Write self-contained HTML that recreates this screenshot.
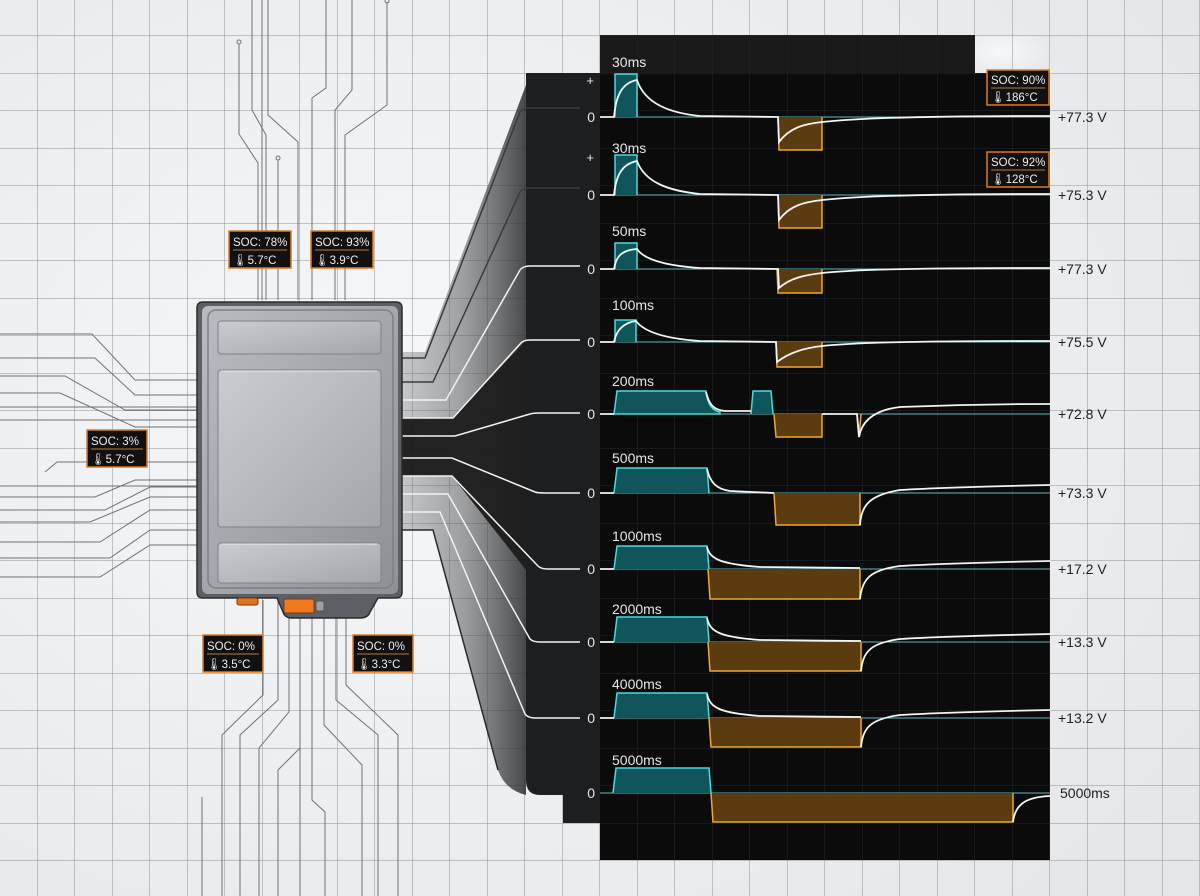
<!DOCTYPE html>
<html><head><meta charset="utf-8"><style>
html,body{margin:0;padding:0;background:#eceef0;}
svg{display:block;}
text{font-family:"Liberation Sans",sans-serif;}
</style></head><body>
<svg width="1200" height="896" viewBox="0 0 1200 896" xmlns="http://www.w3.org/2000/svg">
<defs>
<radialGradient id="bg" cx="0.35" cy="0.45" r="0.8"><stop offset="0" stop-color="#f7f8f9"/><stop offset="1" stop-color="#e4e6e8"/></radialGradient>
<linearGradient id="bat" x1="0" y1="0" x2="1" y2="1"><stop offset="0" stop-color="#b8bcc1"/><stop offset="1" stop-color="#8e9297"/></linearGradient>
<linearGradient id="pan" x1="0" y1="0" x2="1" y2="1"><stop offset="0" stop-color="#c9ccd0"/><stop offset="1" stop-color="#a3a7ac"/></linearGradient>
<linearGradient id="shade" x1="0" y1="0" x2="1" y2="0"><stop offset="0" stop-color="#6a6c70" stop-opacity="0.35"/><stop offset="0.5" stop-color="#555759" stop-opacity="0.55"/><stop offset="1" stop-color="#2a2b2c" stop-opacity="0.85"/></linearGradient>
<linearGradient id="shadeD" x1="0" y1="0" x2="1" y2="0"><stop offset="0" stop-color="#111" stop-opacity="0.9"/><stop offset="1" stop-color="#1a1a1a" stop-opacity="0.9"/></linearGradient>
<pattern id="grid" width="37.5" height="37.5" patternUnits="userSpaceOnUse" x="0" y="-1.5"><path d="M37.5 0V37.5M0 37.5H37.5" stroke="#8e9095" stroke-width="1" fill="none"/></pattern>
<pattern id="dgrid" width="37.5" height="37.5" patternUnits="userSpaceOnUse" x="0" y="-1.5"><path d="M37.5 0V37.5M0 37.5H37.5" stroke="#262728" stroke-width="1" fill="none"/></pattern>
</defs>
<rect width="1200" height="896" fill="url(#bg)"/>
<rect width="1200" height="896" fill="url(#grid)"/>

<g stroke="#6f7276" stroke-width="1" fill="none">
<path d="M239 44V134L258 163V300"/><circle cx="239" cy="42" r="2"/>
<path d="M252 0V110L266 135V300"/>
<path d="M262 0V300"/>
<path d="M278 160V300"/><circle cx="278" cy="158" r="2"/>
<path d="M268 0V115L298 142V300"/>
<path d="M326 0V88L312 98V300"/>
<path d="M352 0V90L335 110V300"/>
<path d="M387 2V105L345 135V300"/><circle cx="387" cy="1" r="2"/>
<path d="M0 334H92L135 380H197"/>
<path d="M0 358H95L135 395H197"/>
<path d="M0 376H65L125 410H197"/>
<path d="M0 393H60L135 427H197"/>
<path d="M0 407H197"/>
<path d="M0 420H197"/>
<path d="M45 472L57 462H197"/>
<path d="M0 486H197"/>
<path d="M0 497H95L135 480H197"/>
<path d="M0 510H105L150 487H197"/>
<path d="M0 522H90L150 497H197"/>
<path d="M0 542H100L150 510H197"/>
<path d="M0 558H110L150 530H197"/>
<path d="M0 577H100L150 545H197"/>
<path d="M263 600V695L222 735V896"/>
<path d="M278 600V700L240 735V896"/>
<path d="M289 610V712L259 748V896"/>
<path d="M300 618V748L278 770V896"/>
<path d="M312 618V800L325 812V896"/>
<path d="M324 618V725L362 765V896"/>
<path d="M336 618V700L378 735V896"/>
<path d="M346 618V685L398 735V896"/>
<path d="M202 797V896"/>
<path d="M300 618V896"/>
</g>

<rect x="600" y="35" width="375" height="40" fill="#1a1a1b"/>
<path d="M526 73H600V823H563V795H540Q526 795 526 780Z" fill="#1d1e1f"/>
<rect x="600" y="73" width="450" height="787" fill="#0b0b0b"/>
<rect x="600" y="35" width="450" height="825" fill="url(#dgrid)"/>
<rect x="975" y="35" width="75" height="38" fill="url(#bg)"/>
<rect x="975" y="35" width="75" height="38" fill="url(#grid)"/>

<path d="M402 352H425L526 85V795Q505 790 498 770L433 530H402Z" fill="url(#shade)"/>
<path d="M402 418H453L526 340V570L452 476H402Z" fill="url(#shadeD)"/>
<g fill="none" stroke-width="1.5">
<path d="M402 358H425L520 112Q523 108 530 108H580" stroke="#3a3b3d"/>
<path d="M402 382H433L520 192Q523 188 530 188H580" stroke="#3a3b3d"/>
<path d="M402 400H446L520 270Q523 266 530 266H580" stroke="#f2f2f2"/>
<path d="M402 418H453L520 344Q523 340 530 340H580" stroke="#f2f2f2"/>
<path d="M402 436H455L530 414Q533 413 540 413H580" stroke="#f2f2f2"/>
<path d="M402 458H452L535 492Q538 493 545 493H580" stroke="#f2f2f2"/>
<path d="M402 476H452L538 566Q541 569 548 569H580" stroke="#f2f2f2"/>
<path d="M402 494H448L530 639Q533 642 540 642H580" stroke="#f2f2f2"/>
<path d="M402 512H440L525 714Q528 718 535 718H580" stroke="#f2f2f2"/>
<path d="M402 530H433L498 770" stroke="#2a2b2c"/>
</g>

<path d="M203 302H396Q402 302 402 308V592Q402 598 396 598H378L370 612Q368 618 360 618H292Q285 618 283 612L277 598H203Q197 598 197 592V308Q197 302 203 302Z" fill="#5c5f63" stroke="#2b2c2e" stroke-width="1.5"/>
<rect x="202" y="306" width="196" height="288" rx="6" fill="url(#bat)"/>
<rect x="208" y="310" width="185" height="278" rx="8" fill="url(#bat)" stroke="#7c8085" stroke-width="1.5"/>
<rect x="218" y="321" width="163" height="33" rx="3" fill="url(#pan)" stroke="#7e8287"/>
<rect x="218" y="370" width="163" height="157" rx="3" fill="url(#pan)" stroke="#7e8287"/>
<rect x="218" y="543" width="163" height="40" rx="3" fill="url(#pan)" stroke="#7e8287"/>
<line x1="222" y1="371" x2="377" y2="371" stroke="#eef0f2"/>
<line x1="222" y1="544" x2="377" y2="544" stroke="#eef0f2"/>
<rect x="237" y="598" width="21" height="7" rx="2" fill="#e0731f" stroke="#7a3a10"/>
<rect x="284" y="599" width="30" height="14" rx="2" fill="#f07a22" stroke="#7a3a10"/>
<rect x="316" y="601" width="8" height="10" rx="2" fill="#9aa0a5" stroke="#555"/>

<g font-size="11.5" fill="#eee">
<g transform="translate(229,231)"><rect width="62" height="37" fill="#111" stroke="#e07a20" stroke-width="1.5"/><line x1="4" y1="19" x2="58" y2="19" stroke="#b87a3a"/><text x="4" y="15">SOC: 78%</text><text x="4" y="33">🌡5.7°C</text></g>
<g transform="translate(311,231)"><rect width="62" height="37" fill="#111" stroke="#e07a20" stroke-width="1.5"/><line x1="4" y1="19" x2="58" y2="19" stroke="#b87a3a"/><text x="4" y="15">SOC: 93%</text><text x="4" y="33">🌡3.9°C</text></g>
<g transform="translate(87,430)"><rect width="60" height="37" fill="#111" stroke="#e07a20" stroke-width="1.5"/><line x1="4" y1="19" x2="56" y2="19" stroke="#b87a3a"/><text x="4" y="15">SOC: 3%</text><text x="4" y="33">🌡5.7°C</text></g>
<g transform="translate(203,635)"><rect width="60" height="37" fill="#111" stroke="#e07a20" stroke-width="1.5"/><line x1="4" y1="19" x2="56" y2="19" stroke="#b87a3a"/><text x="4" y="15">SOC: 0%</text><text x="4" y="33">🌡3.5°C</text></g>
<g transform="translate(353,635)"><rect width="60" height="37" fill="#111" stroke="#e07a20" stroke-width="1.5"/><line x1="4" y1="19" x2="56" y2="19" stroke="#b87a3a"/><text x="4" y="15">SOC: 0%</text><text x="4" y="33">🌡3.3°C</text></g>
<g transform="translate(987,70)"><rect width="62" height="35" fill="#111" stroke="#e07a20" stroke-width="1.5"/><line x1="4" y1="18" x2="58" y2="18" stroke="#b87a3a"/><text x="4" y="14">SOC: 90%</text><text x="4" y="31">🌡186°C</text></g>
<g transform="translate(987,152)"><rect width="62" height="35" fill="#111" stroke="#e07a20" stroke-width="1.5"/><line x1="4" y1="18" x2="58" y2="18" stroke="#b87a3a"/><text x="4" y="14">SOC: 92%</text><text x="4" y="31">🌡128°C</text></g>
</g>

<g stroke="#5fb8b8" stroke-width="1">
<line x1="600" y1="117" x2="1050" y2="117"/><line x1="600" y1="195" x2="1050" y2="195"/>
<line x1="600" y1="269" x2="1050" y2="269"/><line x1="600" y1="342" x2="1050" y2="342"/>
<line x1="600" y1="414" x2="1050" y2="414"/><line x1="600" y1="493" x2="1050" y2="493"/>
<line x1="600" y1="569" x2="1050" y2="569"/><line x1="600" y1="642" x2="1050" y2="642"/>
<line x1="600" y1="718" x2="1050" y2="718"/><line x1="600" y1="793" x2="1050" y2="793"/>
</g>

<g fill="#0f555b" stroke="#45dde0" stroke-width="1.5">
<path d="M615 117V74H637V117"/>
<path d="M615 195V155H637V195"/>
<path d="M615 269V243H637V269"/>
<path d="M615 342V320H636V342"/>
<path d="M614 414L617 391H706Q708 410 720 412V414Z"/>
<path d="M751 414L753 391H771L773 414"/>
<path d="M614 493L617 468H707L709 493"/>
<path d="M614 569L617 546H707L709 569"/>
<path d="M614 642L617 617H707L709 642"/>
<path d="M614 718L617 693H707L709 718"/>
<path d="M613 793L616 768H709L711 793"/>
</g>
<g fill="#5a3c10" stroke="#f0a830" stroke-width="1.5">
<path d="M778 117L779 150H822V117"/>
<path d="M778 195L779 228H822V195"/>
<path d="M777 269L778 293H822V269"/>
<path d="M776 342L777 367H822V342"/>
<path d="M774 414L776 437H822V414"/>
<path d="M857 414L859 437L861 414" fill="none"/>
<path d="M774 493L776 525H860V493"/>
<path d="M708 569L710 599H860V569"/>
<path d="M708 642L710 671H861V642"/>
<path d="M709 718L711 747H861V718"/>
<path d="M711 793L713 822H1013V793"/>
</g>
<g fill="none" stroke="#f4f4f4" stroke-width="1.8">
<path d="M600 117H614C616 95 622 83 637 80C645 104 670 113 700 116L778 117L779 142C790 127 805 124 822 122C850 119 900 116 1050 116"/>
<path d="M600 195H614C616 175 622 164 637 161C645 183 670 191 700 194L778 195L779 220C790 205 805 202 822 200C850 197 900 194 1050 194"/>
<path d="M600 269H614C616 256 622 250 637 249C645 261 670 266 700 268L778 269L779 288C790 278 805 275 822 273C850 270 900 268 1050 268"/>
<path d="M600 342H614C616 332 622 323 636 321C645 333 670 339 700 341L776 342L777 362C790 352 805 348 822 346C850 343 900 341 1050 341"/>
<path d="M600 414H614M706 392C709 404 713 410 725 411H751M822 414H857L859 437C862 420 875 410 900 407C950 405 1000 404 1050 404"/>
<path d="M600 493H614M707 469C710 482 716 489 730 491L774 493M860 525C861 505 870 495 900 490C950 487 1000 486 1050 485"/>
<path d="M600 569H614M707 547C710 559 720 564 760 567L860 568M860 599C862 579 870 570 900 566C950 563 1000 562 1050 561"/>
<path d="M600 642H614M707 618C710 632 720 637 760 640L861 641M861 671C863 652 870 643 900 639C950 636 1000 635 1050 634"/>
<path d="M600 718H614M707 694C710 708 720 713 760 716L861 717M861 747C863 728 870 719 900 715C950 712 1000 711 1050 710"/>
<path d="M1013 822C1015 805 1025 797 1050 796"/>
</g>

<g font-size="14" fill="#e6e6e6">
<text x="612" y="67">30ms</text><text x="612" y="153">30ms</text><text x="612" y="236">50ms</text>
<text x="612" y="310">100ms</text><text x="612" y="386">200ms</text><text x="612" y="463">500ms</text>
<text x="612" y="541">1000ms</text><text x="612" y="614">2000ms</text><text x="612" y="689">4000ms</text><text x="612" y="765">5000ms</text>
<g text-anchor="end"><text x="595" y="122">0</text><text x="595" y="200">0</text><text x="595" y="274">0</text><text x="595" y="347">0</text><text x="595" y="419">0</text><text x="595" y="498">0</text><text x="595" y="574">0</text><text x="595" y="647">0</text><text x="595" y="723">0</text><text x="595" y="798">0</text>
<text x="594" y="85" font-size="13">+</text><text x="594" y="162" font-size="13">+</text></g>
</g>
<g font-size="14" fill="#1e1f21">
<text x="1058" y="122">+77.3 V</text><text x="1058" y="200">+75.3 V</text><text x="1058" y="274">+77.3 V</text>
<text x="1058" y="347">+75.5 V</text><text x="1058" y="419">+72.8 V</text><text x="1058" y="498">+73.3 V</text>
<text x="1058" y="574">+17.2 V</text><text x="1058" y="647">+13.3 V</text><text x="1058" y="723">+13.2 V</text>
<text x="1060" y="798">5000ms</text>
</g>
</svg>
</body></html>
